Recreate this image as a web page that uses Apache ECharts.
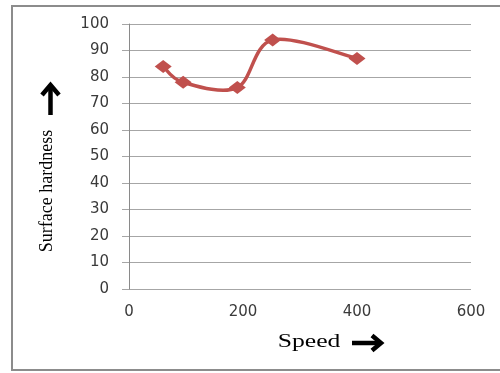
<!DOCTYPE html>
<html>
<head>
<meta charset="utf-8">
<script src="https://cdn.jsdelivr.net/npm/echarts@6/dist/echarts.min.js"></script>
<style>
  html, body { margin: 0; padding: 0; background: #fff; }
  #chart { width: 500px; height: 373px; }
</style>
</head>
<body>
<div id="chart"></div>
<script>
// Surface hardness measured at each speed setting
const speeds = [60, 95, 190, 252, 400];
const hardness = [84, 78, 76, 94, 87];
const xTicks = [0, 200, 400, 600];
const yTicks = [0, 10, 20, 30, 40, 50, 60, 70, 80, 90, 100];

const red = '#C0504D';
const gridGrey = '#a6a6a6';
const labelFont = { fontFamily: 'DejaVu Sans', fontSize: 15, color: '#3a3a3a' };

const points = speeds.map((s, i) => [s, hardness[i]]);

// Catmull-Rom style smoothing: each segment is a cubic Bezier whose
// control points follow the neighbouring points (in pixel space).
function renderSmoothSegment(params, api) {
  const i = params.dataIndex;
  const n = points.length;
  if (i >= n - 1) return null;
  const at = k => api.coord(points[Math.max(0, Math.min(n - 1, k))]);
  const p0 = at(i - 1), p1 = at(i), p2 = at(i + 1), p3 = at(i + 2);
  const t = 1 / 6;
  return {
    type: 'bezierCurve',
    shape: {
      x1: p1[0], y1: p1[1],
      cpx1: p1[0] + (p2[0] - p0[0]) * t, cpy1: p1[1] + (p2[1] - p0[1]) * t,
      cpx2: p2[0] - (p3[0] - p1[0]) * t, cpy2: p2[1] - (p3[1] - p1[1]) * t,
      x2: p2[0], y2: p2[1]
    },
    style: { stroke: red, lineWidth: 3.5, fill: 'none', lineCap: 'round' }
  };
}

const chart = echarts.init(document.getElementById('chart'), null, { renderer: 'canvas' });

chart.setOption({
  animation: false,
  backgroundColor: '#fff',
  grid: { left: 129, top: 24, right: 29, bottom: 84, containLabel: false },
  xAxis: {
    type: 'value',
    min: xTicks[0],
    max: xTicks[xTicks.length - 1],
    interval: 200,
    axisLine: { show: false },
    axisTick: { show: false },
    splitLine: { show: false },
    axisLabel: Object.assign({ margin: 16 }, labelFont)
  },
  yAxis: {
    type: 'value',
    min: yTicks[0],
    max: yTicks[yTicks.length - 1],
    interval: 10,
    axisLine: { show: true, lineStyle: { color: '#8a8a8a', width: 1 } },
    axisTick: { show: true, inside: false, length: 7, lineStyle: { color: gridGrey } },
    splitLine: { show: true, lineStyle: { color: gridGrey, width: 1 } },
    axisLabel: Object.assign({ margin: 20 }, labelFont)
  },
  series: [
    {
      type: 'custom',
      data: points,
      encode: { x: 0, y: 1 },
      renderItem: renderSmoothSegment,
      z: 2
    },
    {
      type: 'line',
      data: points,
      symbol: 'diamond',
      symbolSize: [17, 13],
      itemStyle: { color: red },
      lineStyle: { width: 0, opacity: 0 },
      z: 3
    }
  ],
  graphic: [
    // chart frame
    {
      type: 'rect', silent: true, z: 0,
      shape: { x: 12, y: 6, width: 500, height: 364 },
      style: { fill: 'none', stroke: '#8c8c8c', lineWidth: 2 }
    },
    // vertical axis title
    {
      type: 'text', silent: true,
      x: 47, y: 191, rotation: Math.PI / 2,
      style: {
        text: 'Surface hardness', fontFamily: 'Liberation Serif', fontSize: 18,
        fill: '#000', textAlign: 'center', textVerticalAlign: 'middle'
      }
    },
    // upward arrow beside the vertical title
    {
      type: 'polyline', silent: true,
      shape: { points: [[50.5, 115], [50.5, 86]] },
      style: { stroke: '#000', lineWidth: 4.5 }
    },
    {
      type: 'polyline', silent: true,
      shape: { points: [[42, 95], [50.5, 85], [59, 95]] },
      style: { stroke: '#000', lineWidth: 4.5, fill: 'none', lineJoin: 'miter' }
    },
    // horizontal axis title
    {
      type: 'text', silent: true,
      x: 309, y: 342, scaleX: 1.35,
      style: {
        text: 'Speed', fontFamily: 'Liberation Serif', fontSize: 19,
        fill: '#000', textAlign: 'center', textVerticalAlign: 'middle'
      }
    },
    // rightward arrow after the horizontal title
    {
      type: 'polyline', silent: true,
      shape: { points: [[352, 343], [380, 343]] },
      style: { stroke: '#000', lineWidth: 4.5 }
    },
    {
      type: 'polyline', silent: true,
      shape: { points: [[372, 335.5], [381, 343], [372, 350.5]] },
      style: { stroke: '#000', lineWidth: 4.5, fill: 'none', lineJoin: 'miter' }
    }
  ]
});
</script>
</body>
</html>
